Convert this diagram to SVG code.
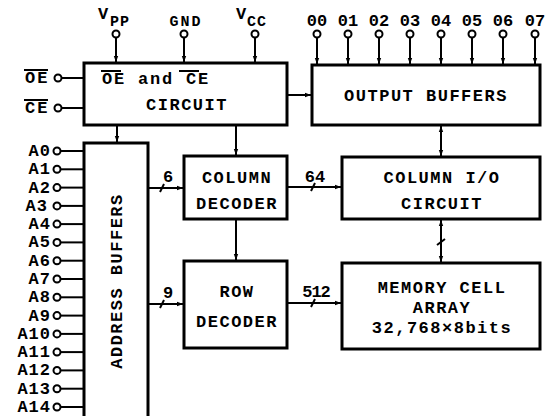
<svg xmlns="http://www.w3.org/2000/svg" width="549" height="416" viewBox="0 0 549 416">
<style>
.box{fill:#fff;stroke:#000;stroke-width:3}
.w{stroke:#000;stroke-width:2;fill:none}
.pin{fill:#fff;stroke:#000;stroke-width:2}
text{font-family:"Liberation Mono","Courier New",monospace;font-weight:bold;font-size:17px;fill:#000}
.c{text-anchor:middle;letter-spacing:1.5px}
.s{font-size:15px}
.a{text-anchor:end;font-size:16px;letter-spacing:1px}
</style>
<defs>
<marker id="ar" viewBox="0 0 6 6" refX="6" refY="3" markerWidth="6" markerHeight="6" markerUnits="userSpaceOnUse" orient="auto-start-reverse">
<path d="M0,0.8 L6,3 L0,5.2 Z" fill="#000"/>
</marker>
</defs>
<rect width="549" height="416" fill="#fff"/>

<g id="connectors">
<line class="w" x1="116" y1="37.5" x2="116" y2="62" marker-end="url(#ar)"/>
<line class="w" x1="184" y1="37.5" x2="184" y2="62" marker-end="url(#ar)"/>
<line class="w" x1="255" y1="37.5" x2="255" y2="62" marker-end="url(#ar)"/>
<line class="w" x1="317" y1="37.5" x2="317" y2="64" marker-end="url(#ar)"/>
<line class="w" x1="348" y1="37.5" x2="348" y2="64" marker-end="url(#ar)"/>
<line class="w" x1="379" y1="37.5" x2="379" y2="64" marker-end="url(#ar)"/>
<line class="w" x1="410" y1="37.5" x2="410" y2="64" marker-end="url(#ar)"/>
<line class="w" x1="441" y1="37.5" x2="441" y2="64" marker-end="url(#ar)"/>
<line class="w" x1="472" y1="37.5" x2="472" y2="64" marker-end="url(#ar)"/>
<line class="w" x1="503" y1="37.5" x2="503" y2="64" marker-end="url(#ar)"/>
<line class="w" x1="535" y1="37.5" x2="535" y2="64" marker-end="url(#ar)"/>
<line class="w" x1="61.5" y1="78" x2="84" y2="78"/>
<line class="w" x1="61.5" y1="108" x2="84" y2="108"/>
<g class="w">
<line x1="60.5" y1="151" x2="84" y2="151"/>
<line x1="60.5" y1="169.3" x2="84" y2="169.3"/>
<line x1="60.5" y1="187.6" x2="84" y2="187.6"/>
<line x1="60.5" y1="205.9" x2="84" y2="205.9"/>
<line x1="60.5" y1="224.1" x2="84" y2="224.1"/>
<line x1="60.5" y1="242.4" x2="84" y2="242.4"/>
<line x1="60.5" y1="260.7" x2="84" y2="260.7"/>
<line x1="60.5" y1="279" x2="84" y2="279"/>
<line x1="60.5" y1="297.3" x2="84" y2="297.3"/>
<line x1="60.5" y1="315.6" x2="84" y2="315.6"/>
<line x1="60.5" y1="333.9" x2="84" y2="333.9"/>
<line x1="60.5" y1="352.1" x2="84" y2="352.1"/>
<line x1="60.5" y1="370.4" x2="84" y2="370.4"/>
<line x1="60.5" y1="388.7" x2="84" y2="388.7"/>
<line x1="60.5" y1="407" x2="84" y2="407"/>
</g>
<line class="w" x1="117" y1="125" x2="117" y2="142" marker-end="url(#ar)"/>
<line class="w" x1="236" y1="125" x2="236" y2="155" marker-end="url(#ar)"/>
<line class="w" x1="287" y1="95" x2="311" y2="95" marker-end="url(#ar)"/>
<line class="w" x1="441" y1="126" x2="441" y2="156" marker-start="url(#ar)" marker-end="url(#ar)"/>
<line class="w" x1="236" y1="219" x2="236" y2="260" marker-end="url(#ar)"/>
<line class="w" x1="148" y1="188" x2="183" y2="188" marker-end="url(#ar)"/>
<line class="w" x1="160" y1="192" x2="164" y2="184"/>
<line class="w" x1="148" y1="304" x2="183" y2="304" marker-end="url(#ar)"/>
<line class="w" x1="160" y1="308" x2="164" y2="300"/>
<line class="w" x1="287" y1="187" x2="341" y2="187" marker-end="url(#ar)"/>
<line class="w" x1="311" y1="191" x2="315" y2="183"/>
<line class="w" x1="287" y1="303" x2="341" y2="303" marker-end="url(#ar)"/>
<line class="w" x1="311" y1="307" x2="315" y2="299"/>
<line class="w" x1="441" y1="220" x2="441" y2="262" marker-start="url(#ar)" marker-end="url(#ar)"/>
<line class="w" x1="437" y1="245" x2="445" y2="239"/>
</g>

<g id="pins">
<circle class="pin" cx="116" cy="34" r="3.5"/>
<circle class="pin" cx="184" cy="34" r="3.5"/>
<circle class="pin" cx="255" cy="34" r="3.5"/>
<circle class="pin" cx="317" cy="34" r="3.5"/>
<circle class="pin" cx="348" cy="34" r="3.5"/>
<circle class="pin" cx="379" cy="34" r="3.5"/>
<circle class="pin" cx="410" cy="34" r="3.5"/>
<circle class="pin" cx="441" cy="34" r="3.5"/>
<circle class="pin" cx="472" cy="34" r="3.5"/>
<circle class="pin" cx="503" cy="34" r="3.5"/>
<circle class="pin" cx="535" cy="34" r="3.5"/>
<circle class="pin" cx="58" cy="78" r="3.5"/>
<circle class="pin" cx="58" cy="108" r="3.5"/>
<circle class="pin" cx="57" cy="151" r="3.5"/>
<circle class="pin" cx="57" cy="169.3" r="3.5"/>
<circle class="pin" cx="57" cy="187.6" r="3.5"/>
<circle class="pin" cx="57" cy="205.9" r="3.5"/>
<circle class="pin" cx="57" cy="224.1" r="3.5"/>
<circle class="pin" cx="57" cy="242.4" r="3.5"/>
<circle class="pin" cx="57" cy="260.7" r="3.5"/>
<circle class="pin" cx="57" cy="279" r="3.5"/>
<circle class="pin" cx="57" cy="297.3" r="3.5"/>
<circle class="pin" cx="57" cy="315.6" r="3.5"/>
<circle class="pin" cx="57" cy="333.9" r="3.5"/>
<circle class="pin" cx="57" cy="352.1" r="3.5"/>
<circle class="pin" cx="57" cy="370.4" r="3.5"/>
<circle class="pin" cx="57" cy="388.7" r="3.5"/>
<circle class="pin" cx="57" cy="407" r="3.5"/>
</g>

<g id="pin-labels">
<text x="98" y="19">V</text><text class="s" x="110" y="26" letter-spacing="1">PP</text>
<text x="186" y="26" class="s" text-anchor="middle" letter-spacing="2">GND</text>
<text x="236" y="19">V</text><text class="s" x="247" y="26" letter-spacing="1">CC</text>
<g class="s" text-anchor="middle">
<text x="317" y="26">00</text><text x="348" y="26">01</text><text x="379" y="26">02</text><text x="410" y="26">03</text>
<text x="441" y="26">04</text><text x="472" y="26">05</text><text x="503" y="26">06</text><text x="535" y="26">07</text>
</g>
<text x="25" y="83" font-size="16" letter-spacing="2">OE</text>
<line class="w" x1="24" y1="70" x2="48" y2="70" stroke-width="1.5"/>
<text x="25" y="113" font-size="16" letter-spacing="2">CE</text>
<line class="w" x1="24" y1="100" x2="48" y2="100" stroke-width="1.5"/>
<g class="a">
<text x="51" y="156">A0</text><text x="51" y="174.3">A1</text><text x="51" y="192.6">A2</text><text x="48" y="210.9">A3</text>
<text x="51" y="229.1">A4</text><text x="51" y="247.4">A5</text><text x="51" y="265.7">A6</text><text x="51" y="284">A7</text>
<text x="51" y="302.3">A8</text><text x="51" y="320.6">A9</text><text x="51" y="338.9">A10</text><text x="51" y="357.1">A11</text>
<text x="51" y="375.4">A12</text><text x="51" y="393.7">A13</text><text x="51" y="412">A14</text>
</g>
</g>

<g id="oe-ce-circuit">
<rect class="box" x="84" y="63" width="203" height="62"/>
<text x="102" y="84" font-size="15" letter-spacing="1.8">OE and CE</text>
<line class="w" x1="101" y1="71" x2="121" y2="71" stroke-width="1.5"/>
<line class="w" x1="179" y1="71" x2="199" y2="71" stroke-width="1.5"/>
<text class="c" x="187" y="110">CIRCUIT</text>
</g>

<g id="output-buffers">
<rect class="box" x="312" y="65" width="228" height="60"/>
<text class="c" x="426" y="101">OUTPUT BUFFERS</text>
</g>

<g id="address-buffers">
<rect class="box" x="84" y="143" width="64" height="275"/>
<text class="c" transform="translate(122,281) rotate(-90)">ADDRESS BUFFERS</text>
</g>

<g id="column-decoder">
<rect class="box" x="184" y="156" width="103" height="63"/>
<text class="c" x="237" y="183">COLUMN</text>
<text class="c" x="237" y="209">DECODER</text>
</g>

<g id="column-io">
<rect class="box" x="342" y="157" width="198" height="62"/>
<text class="c" x="442" y="183">COLUMN I/O</text>
<text class="c" x="442" y="209">CIRCUIT</text>
</g>

<g id="row-decoder">
<rect class="box" x="184" y="261" width="103" height="87"/>
<text class="c" x="237" y="297">ROW</text>
<text class="c" x="237" y="327">DECODER</text>
</g>

<g id="memory-array">
<rect class="box" x="342" y="263" width="198" height="86"/>
<text class="c" x="442" y="293">MEMORY CELL</text>
<text class="c" x="442" y="313">ARRAY</text>
<text class="c" x="442" y="333">32,768×8bits</text>
</g>

<g id="bus-labels">
<text x="168" y="182" text-anchor="middle">6</text>
<text x="168" y="298" text-anchor="middle">9</text>
<text x="315" y="182" text-anchor="middle">64</text>
<text x="316" y="297" text-anchor="middle" letter-spacing="-1">512</text>
</g>
</svg>
